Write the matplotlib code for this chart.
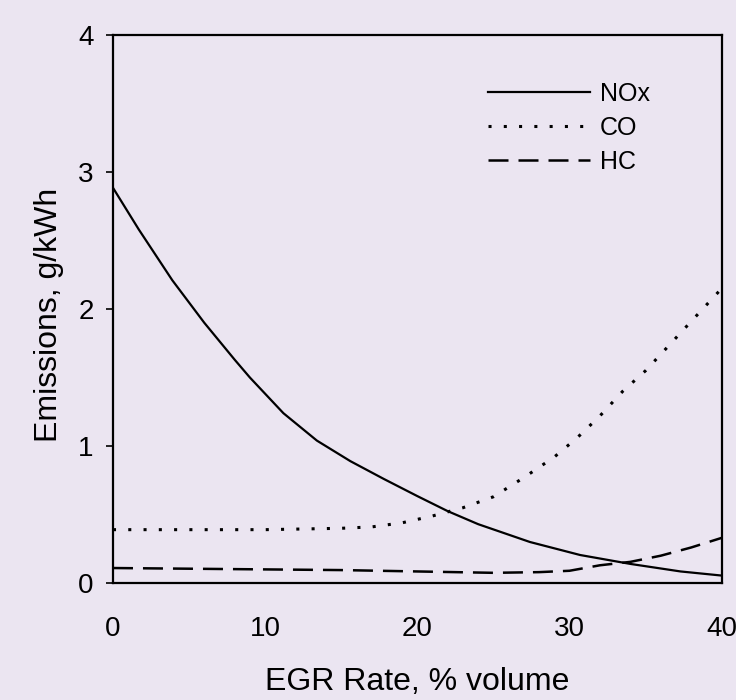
import matplotlib.pyplot as plt

# EGR rate (% volume) and emissions (g/kWh)
nox_egr = [0, 1.7, 3.9, 6.0, 8.0, 9.0, 11.2, 13.4, 15.6, 17.8, 20, 22, 24, 27.4, 30.7, 34, 37.3, 40]
nox = [2.885, 2.58, 2.21, 1.90, 1.63, 1.50, 1.24, 1.04, 0.89, 0.76, 0.635, 0.525, 0.43, 0.30, 0.205, 0.14, 0.085, 0.055]

co_egr = [0, 5, 10, 15, 17, 19, 21, 23, 25, 27, 29, 30.5, 32, 33.5, 35, 36.5, 38, 39.5, 40]
co = [0.39, 0.39, 0.39, 0.40, 0.41, 0.44, 0.49, 0.55, 0.63, 0.77, 0.92, 1.06, 1.22, 1.40, 1.55, 1.73, 1.91, 2.09, 2.15]

hc_egr = [0, 5, 10, 15, 20, 25, 28, 30, 32, 34, 36, 38, 40]
hc = [0.11, 0.105, 0.10, 0.095, 0.085, 0.075, 0.08, 0.09, 0.13, 0.155, 0.2, 0.26, 0.33]

bg = "#ebe5f1"
plt.rcParams["font.family"] = ["Liberation Sans", "DejaVu Sans"]

fig = plt.figure(figsize=(7.36, 7.0), dpi=100, facecolor=bg)
ax = fig.add_axes([0.1535, 0.167, 0.827, 0.783], facecolor=bg)

ax.plot(nox_egr, nox, color="black", lw=1.6, ls="-", label="NOx")
ax.plot(co_egr, co, color="black", lw=2.2, ls=(0, (1, 4)), label="CO")
ax.plot(hc_egr, hc, color="black", lw=1.8, ls=(0, (8, 4)), label="HC")

ax.set_xlim(0, 40)
ax.set_ylim(0, 4)
ax.set_xticks([0, 10, 20, 30, 40])
ax.set_yticks([0, 1, 2, 3, 4])
ax.tick_params(axis="both", labelsize=20, width=1.2, length=5, pad=9)
ax.tick_params(axis="x", length=0, pad=24)
for s in ax.spines.values():
    s.set_linewidth(1.6)

ax.set_xlabel("EGR Rate, % volume", fontsize=23, labelpad=18)
ax.set_ylabel("Emissions, g/kWh", fontsize=23)
ax.yaxis.set_label_coords(-0.08, 0.49)

ax.legend(loc="upper left", bbox_to_anchor=(0.599, 0.933), frameon=False,
          fontsize=18, handlelength=4.08, handletextpad=0.4, labelspacing=0.4,
          borderaxespad=0)

fig.savefig("out.png", dpi=100, facecolor=bg)
